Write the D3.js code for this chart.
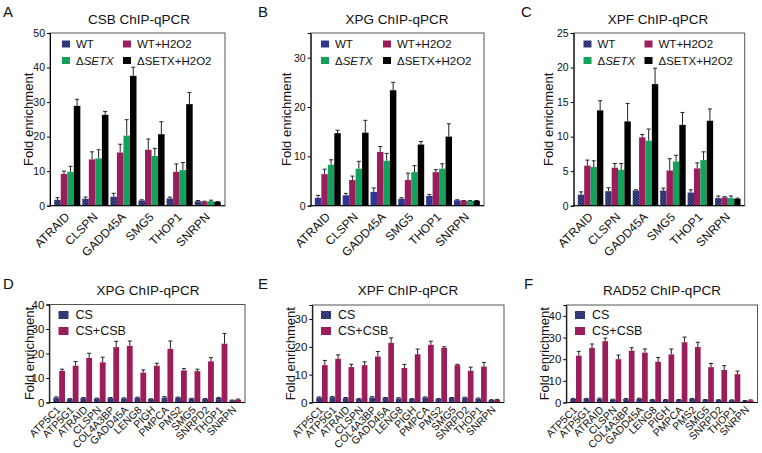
<!DOCTYPE html>
<html><head><meta charset="utf-8">
<script src="https://cdn.jsdelivr.net/npm/d3@7"></script>
<style>body{margin:0;background:#fff} svg{font-family:"Liberation Sans",Arial,sans-serif}</style>
</head><body><svg id="c" width="762" height="453"></svg>
<script>
// ---------- DATA ----------
const topGenes = ['ATRAID','CLSPN','GADD45A','SMG5','THOP1','SNRPN'];
const topSeries = ['WT','WT+H2O2','ΔSETX','ΔSETX+H2O2'];

const csbWT = [1.7,2.0,2.6,1.5,2.1,1.3];
const csbWTErr = [0.6,0.5,1.0,0.2,0.4,0.2];
const csbWTH = [9.2,13.4,15.4,16.2,9.8,1.2];
const csbWTHErr = [0.8,2.2,2.4,3.1,2.3,0.1];
const csbKO = [9.8,13.7,20.3,14.4,10.3,1.3];
const csbKOErr = [1.6,2.5,4.6,2.2,2.2,0.3];
const csbKOH = [28.9,26.3,37.6,20.7,29.4,1.1];
const csbKOHErr = [1.9,1.0,2.5,3.6,3.4,0.1];

const xpgWT = [1.6,2.1,2.8,1.4,2.0,1.1];
const xpgWTErr = [0.5,0.4,0.8,0.2,0.3,0.1];
const xpgWTH = [6.4,5.2,10.9,5.2,6.8,1.0];
const xpgWTHErr = [1.0,0.8,1.1,1.4,0.5,0.05];
const xpgKO = [8.3,7.5,9.1,6.8,7.5,1.0];
const xpgKOErr = [1.0,1.5,1.5,1.3,1.0,0.05];
const xpgKOH = [14.7,14.8,23.4,12.4,14.0,1.0];
const xpgKOHErr = [0.6,2.5,1.6,0.6,2.6,0.05];

const xpfWT = [1.6,2.1,2.2,2.2,1.9,1.1];
const xpfWTErr = [0.4,0.5,0.1,0.35,0.4,0.3];
const xpfWTH = [5.8,5.5,9.9,5.1,5.4,1.2];
const xpfWTHErr = [0.8,0.6,0.4,1.7,0.8,0.1];
const xpfKO = [5.6,5.2,9.4,6.4,6.6,1.1];
const xpfKOErr = [0.9,0.9,1.7,0.9,1.2,0.3];
const xpfKOH = [13.8,12.2,17.6,11.7,12.3,1.0];
const xpfKOHErr = [1.4,2.6,2.3,1.8,1.7,0.1];

const botGenes = ['ATP5C1','ATP5G1','ATRAID','CLSPN','COL4A3BP','GADD45A','LENG8','PIGH','PMPCA','PMS2','SMG5','SNRPD2','THOP1','SNRPN'];
const botSeries = ['CS','CS+CSB'];

const xpgCS = [2.0,1.4,1.8,1.6,1.8,1.7,1.9,1.4,2.0,2.0,1.6,1.5,1.9,0.9];
const xpgCSErr = [0.3,0.2,0.2,0.2,0.2,0.2,0.3,0.1,0.4,0.2,0.1,0.1,0.2,0.1];
const xpgCSB = [12.9,15.0,18.2,16.4,22.6,23.1,12.2,15.0,21.9,13.1,12.8,16.8,24.0,1.2];
const xpgCSBErr = [0.7,1.7,1.9,2.1,2.4,2.0,1.1,1.0,3.2,0.8,0.8,1.5,4.2,0.2];

const xpfCS = [1.8,1.9,1.6,1.3,1.8,1.7,1.5,1.3,1.8,1.3,1.7,1.7,1.4,0.9];
const xpfCSErr = [0.2,0.3,0.2,0.1,0.3,0.1,0.2,0.1,0.2,0.1,0.1,0.2,0.2,0.1];
const xpfCSB = [13.4,15.7,12.7,13.4,16.5,21.4,12.4,17.3,20.7,19.6,13.4,11.4,12.9,1.0];
const xpfCSBErr = [1.7,1.4,1.0,1.2,1.8,1.8,1.3,1.9,1.3,0.4,0.3,1.3,1.5,0.1];

const radCS = [1.7,1.7,1.7,1.4,1.6,1.7,1.3,1.3,1.3,1.7,1.3,1.2,1.1,0.8];
const radCSErr = [0.2,0.2,0.3,0.1,0.2,0.3,0.1,0.1,0.1,0.2,0.1,0.1,0.1,0.1];
const radCSB = [21.6,25.2,28.3,20.0,23.9,23.0,18.8,22.2,27.8,25.6,16.3,15.0,13.1,1.0];
const radCSBErr = [2.0,1.8,1.4,1.9,1.4,1.7,2.0,2.5,2.4,2.2,1.7,2.0,1.4,0.2];

const ticksA = [0,10,20,30,40,50];
const ticksB = [0,10,20,30];
const ticksC = [0,5,10,15,20,25];
const ticksD = [0,10,20,30,40];
const ticksE = [0,10,20,30];
const ticksF = [0,10,20,30,40];

// ---------- DRAW ----------
const svg = d3.select('#c');
const defs = svg.append('defs');
const pat = defs.append('pattern').attr('id','chk').attr('patternUnits','userSpaceOnUse').attr('width',3).attr('height',3);
pat.append('rect').attr('width',3).attr('height',3).attr('fill','#1b1b4a');
pat.append('rect').attr('width',1.5).attr('height',1.5).attr('fill','#4b56a3');
pat.append('rect').attr('x',1.5).attr('y',1.5).attr('width',1.5).attr('height',1.5).attr('fill','#4b56a3');

const MAG = '#9b1d5c', GRN = '#13a15c', BLK = '#000', BLU = '#2e3592', CHK = 'url(#chk)';

function panel(cfg){
  const g = svg.append('g');
  const x = d3.scaleBand().domain(cfg.cats).range([cfg.x0,cfg.x1]).paddingInner(cfg.pi).paddingOuter(cfg.po);
  const xs = d3.scaleBand().domain(d3.range(cfg.series.length)).range([0,x.bandwidth()]);
  const y = d3.scaleLinear().domain([0,cfg.max]).range([cfg.y1,cfg.y0]);
  g.append('rect').attr('x',cfg.x0).attr('y',cfg.y0).attr('width',cfg.x1-cfg.x0).attr('height',cfg.y1-cfg.y0)
    .attr('fill','none').attr('stroke','#555').attr('stroke-width',1);
  cfg.series.forEach((s,si)=>{
    const rows = s.values.map((v,i)=>({c:cfg.cats[i],v:v,e:s.err[i]}));
    g.selectAll(null).data(rows).enter().append('line')
      .attr('x1',d=>x(d.c)+xs(si)+xs.bandwidth()/2).attr('x2',d=>x(d.c)+xs(si)+xs.bandwidth()/2)
      .attr('y1',d=>y(d.v)).attr('y2',d=>y(d.v+d.e)).attr('stroke','#222').attr('stroke-width',1);
    g.selectAll(null).data(rows).enter().append('line')
      .attr('x1',d=>x(d.c)+xs(si)+xs.bandwidth()/2-2).attr('x2',d=>x(d.c)+xs(si)+xs.bandwidth()/2+2)
      .attr('y1',d=>y(d.v+d.e)).attr('y2',d=>y(d.v+d.e)).attr('stroke','#222').attr('stroke-width',1);
    g.selectAll(null).data(rows).enter().append('rect')
      .attr('x',d=>x(d.c)+xs(si)).attr('width',xs.bandwidth())
      .attr('y',d=>y(d.v)).attr('height',d=>y(0)-y(d.v)).attr('fill',s.fill);
  });
  const ya = g.append('g').attr('transform',`translate(${cfg.x0},0)`)
    .call(d3.axisLeft(y).tickValues(cfg.ticks).tickSize(3).tickPadding(2));
  ya.select('.domain').attr('stroke','#000');
  ya.selectAll('.tick line').attr('stroke','#000');
  ya.selectAll('.tick text').attr('font-size',cfg.tfs).attr('fill','#111').attr('font-family','"Liberation Sans",Arial,sans-serif');
  g.append('line').attr('x1',cfg.x0).attr('x2',cfg.x1).attr('y1',cfg.y1).attr('y2',cfg.y1).attr('stroke','#000');
  g.selectAll(null).data(cfg.cats).enter().append('text')
    .attr('transform',c=>`translate(${x(c)+x.bandwidth()/2+cfg.lx},${cfg.y1+cfg.ly}) rotate(-45)`)
    .attr('text-anchor','end').attr('font-size',cfg.cfs).attr('fill','#111').text(c=>c);
  g.append('text').attr('transform',`translate(${cfg.ylx},${(cfg.y0+cfg.y1)/2}) rotate(-90)`)
    .attr('text-anchor','middle').attr('font-size',13).attr('fill','#111').text('Fold enrichment');
  g.append('text').attr('x',cfg.tx).attr('y',cfg.ty).attr('text-anchor','middle').attr('font-size',13.5).attr('fill','#111').text(cfg.title);
  g.append('text').attr('x',cfg.lbx).attr('y',cfg.lby).attr('font-size',15).attr('fill','#111').text(cfg.label);
  cfg.legend.forEach(L=>{
    g.append('rect').attr('x',L.x).attr('y',L.y-L.h/2).attr('width',L.w).attr('height',L.h).attr('fill',L.fill);
    const t = g.append('text').attr('x',L.x+L.w+L.gap).attr('y',L.y).attr('dy','0.35em').attr('font-size',L.fs).attr('fill','#111');
    if(L.italic){ t.append('tspan').text('Δ'); t.append('tspan').attr('font-style','italic').text(L.name.slice(1)); }
    else t.text(L.name);
  });
}

function topLegend(x1,x2,fills){
  const r1=44, r2=60.5, w=8, h=7;
  return [
    {name:topSeries[0],x:x1,y:r1,w,h,fill:fills[0],gap:6,fs:11.5},
    {name:topSeries[1],x:x2,y:r1,w,h,fill:fills[1],gap:6,fs:11.5},
    {name:topSeries[2],x:x1,y:r2,w,h,fill:fills[2],gap:6,fs:11.5,italic:true},
    {name:topSeries[3],x:x2,y:r2,w,h,fill:fills[3],gap:6,fs:11.5}
  ];
}
function botLegend(x1){
  return [
    {name:botSeries[0],x:x1,y:315,w:10,h:8,fill:CHK,gap:7,fs:12.5},
    {name:botSeries[1],x:x1,y:331,w:10,h:8,fill:MAG,gap:7,fs:12.5}
  ];
}

const topCommon = {cats:topGenes,y0:33,y1:205.7,pi:0.07,po:0.15,tfs:10.5,cfs:12,lx:3,ly:12,ty:24,lby:17};
panel(Object.assign({},topCommon,{x0:50,x1:225,max:50,ticks:ticksA,title:'CSB ChIP-qPCR',tx:139,label:'A',lbx:3,ylx:33,
  series:[{values:csbWT,err:csbWTErr,fill:CHK},{values:csbWTH,err:csbWTHErr,fill:MAG},{values:csbKO,err:csbKOErr,fill:GRN},{values:csbKOH,err:csbKOHErr,fill:BLK}],
  legend:topLegend(62,123,[CHK,MAG,GRN,BLK])}));
panel(Object.assign({},topCommon,{x0:310.7,x1:484,max:35,ticks:ticksB,title:'XPG ChIP-qPCR',tx:397,label:'B',lbx:258,ylx:291,
  series:[{values:xpgWT,err:xpgWTErr,fill:BLU},{values:xpgWTH,err:xpgWTHErr,fill:MAG},{values:xpgKO,err:xpgKOErr,fill:GRN},{values:xpgKOH,err:xpgKOHErr,fill:BLK}],
  legend:topLegend(321,383,[BLU,MAG,GRN,BLK])}));
panel(Object.assign({},topCommon,{x0:573.7,x1:744.7,max:25,ticks:ticksC,title:'XPF ChIP-qPCR',tx:658,label:'C',lbx:521,ylx:553,
  series:[{values:xpfWT,err:xpfWTErr,fill:CHK},{values:xpfWTH,err:xpfWTHErr,fill:MAG},{values:xpfKO,err:xpfKOErr,fill:GRN},{values:xpfKOH,err:xpfKOHErr,fill:BLK}],
  legend:topLegend(583.5,644.5,[CHK,MAG,GRN,BLK])}));

const botCommon = {cats:botGenes,y1:402.5,pi:0.14,po:0.3,tfs:11.5,cfs:10.5,lx:2,ly:8,ty:295,lby:289};
panel(Object.assign({},botCommon,{x0:49.3,x1:245,y0:304.5,max:40,ticks:ticksD,title:'XPG ChIP-qPCR',tx:148,label:'D',lbx:3,ylx:34,
  series:[{values:xpgCS,err:xpgCSErr,fill:CHK},{values:xpgCSB,err:xpgCSBErr,fill:MAG}],legend:botLegend(58.5)}));
panel(Object.assign({},botCommon,{x0:312.3,x1:504,y0:305,max:35,ticks:ticksE,title:'XPF ChIP-qPCR',tx:408,label:'E',lbx:258,ylx:294.5,
  series:[{values:xpfCS,err:xpfCSErr,fill:CHK},{values:xpfCSB,err:xpfCSBErr,fill:MAG}],legend:botLegend(321)}));
panel(Object.assign({},botCommon,{x0:566.3,x1:757.5,y0:305,max:45,ticks:ticksF,title:'RAD52 ChIP-qPCR',tx:662,label:'F',lbx:524,ylx:548.5,
  series:[{values:radCS,err:radCSErr,fill:CHK},{values:radCSB,err:radCSBErr,fill:MAG}],legend:botLegend(575)}));
</script></body></html>
